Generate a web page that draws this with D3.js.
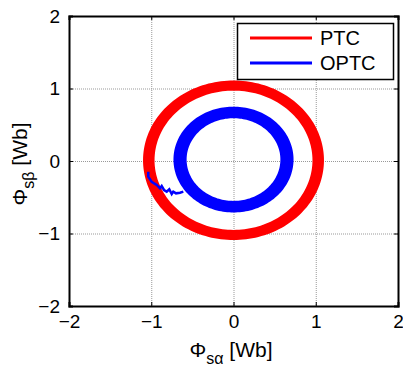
<!DOCTYPE html>
<html>
<head>
<meta charset="utf-8">
<script src="https://cdn.jsdelivr.net/npm/d3@7"></script>
<style>
  body { margin: 0; background: #fff; }
  text { font-family: Arial, "Liberation Sans", sans-serif; }
</style>
</head>
<body>
<div id="root"></div>
<script>
// axis ticks
const xTicks = [-2, -1, 0, 1, 2];
const yTicks = [-2, -1, 0, 1, 2];

// flux rings: [centerX, centerY, innerRadius, outerRadius]
const ptcRing = [0, 0.01, 0.96, 1.1];
const optcRing = [0, 0.02, 0.57, 0.73];

// OPTC start-up transient
const optcX = [-1.036, -1.036, -0.995, -0.934, -0.894, -0.873, -0.845, -0.812, -0.781, -0.751, -0.732, -0.699, -0.65, -0.61];
const optcY = [-0.148, -0.217, -0.286, -0.331, -0.377, -0.345, -0.4, -0.423, -0.39, -0.455, -0.423, -0.446, -0.437, -0.423];

const legendNames = ['PTC', 'OPTC'];
const colors = ['#ff0000', '#0000ff'];

const W = 403, H = 367;
const m = { left: 69, right: 5, top: 16, bottom: 61 };

const svg = d3.select('#root').append('svg')
  .attr('width', W).attr('height', H);

const x = d3.scaleLinear().domain([-2, 2]).range([m.left, W - m.right]);
const y = d3.scaleLinear().domain([-2, 2]).range([H - m.bottom, m.top]);

// grid
const grid = svg.append('g')
  .attr('stroke', '#999').attr('stroke-width', 1).attr('stroke-dasharray', '1,1');
grid.selectAll('.gx').data(xTicks.slice(1, -1)).join('line')
  .attr('x1', d => x(d) + 0.5).attr('x2', d => x(d) + 0.5)
  .attr('y1', y(2)).attr('y2', y(-2));
grid.selectAll('.gy').data(yTicks.slice(1, -1)).join('line')
  .attr('y1', d => y(d) + 0.5).attr('y2', d => y(d) + 0.5)
  .attr('x1', x(-2)).attr('x2', x(2));

// ring drawn as an even-odd band between two ellipses in data space
const ringPath = r => {
  const [cx, cy, ri, ro] = r;
  const ell = rad => {
    const p = d3.path();
    const n = 180;
    for (let i = 0; i <= n; i++) {
      const a = i / n * 2 * Math.PI;
      const px = x(cx + rad * Math.cos(a)), py = y(cy + rad * Math.sin(a));
      if (i === 0) p.moveTo(px, py); else p.lineTo(px, py);
    }
    p.closePath();
    return p.toString();
  };
  return ell(ro) + ell(ri);
};

svg.append('path').attr('d', ringPath(ptcRing))
  .attr('fill', colors[0]).attr('fill-rule', 'evenodd');

const line = d3.line().x(d => x(d[0])).y(d => y(d[1]));
svg.append('path')
  .attr('d', line(optcX.map((v, i) => [v, optcY[i]])))
  .attr('fill', 'none').attr('stroke', colors[1]).attr('stroke-width', 2.5);

svg.append('path').attr('d', ringPath(optcRing))
  .attr('fill', colors[1]).attr('fill-rule', 'evenodd');

// axes box with inward ticks
const axB = svg.append('g').attr('transform', `translate(0,${y(-2)})`)
  .call(d3.axisBottom(x).tickValues(xTicks).tickSize(-4).tickPadding(9).tickFormat(d3.format('d')));
const axT = svg.append('g').attr('transform', `translate(0,${y(2)})`)
  .call(d3.axisTop(x).tickValues(xTicks).tickSize(-4).tickFormat(''));
const axL = svg.append('g').attr('transform', `translate(${x(-2)},0)`)
  .call(d3.axisLeft(y).tickValues(yTicks).tickSize(-4).tickPadding(9).tickFormat(d3.format('d')));
const axR = svg.append('g').attr('transform', `translate(${x(2)},0)`)
  .call(d3.axisRight(y).tickValues(yTicks).tickSize(-4).tickFormat(''));

[axB, axT, axL, axR].forEach(a => {
  a.select('.domain').attr('stroke', '#000').attr('stroke-width', 2);
  a.selectAll('.tick line').attr('stroke', '#000');
  a.selectAll('text').attr('font-size', 19).attr('fill', '#000')
    .attr('font-family', 'Arial, "Liberation Sans", sans-serif');
});
axB.selectAll('text').attr('dy', '0.71em');

// axis labels
const xl = svg.append('text').attr('x', 231).attr('y', 357)
  .attr('text-anchor', 'middle').attr('font-size', 21);
xl.append('tspan').text('Φ');
xl.append('tspan').attr('dy', 7).attr('font-size', 16).text('sα');
xl.append('tspan').attr('dy', -7).text(' [Wb]');

const yl = svg.append('text')
  .attr('transform', `translate(27,${y(0) + 3}) rotate(-90)`)
  .attr('text-anchor', 'middle').attr('font-size', 21);
yl.append('tspan').text('Φ');
yl.append('tspan').attr('dy', 7).attr('font-size', 16).text('sβ');
yl.append('tspan').attr('dy', -7).text(' [Wb]');

// legend
const lg = svg.append('g');
lg.append('rect').attr('x', 237.5).attr('y', 23.5).attr('width', 156).attr('height', 56)
  .attr('fill', '#fff').attr('stroke', '#000').attr('stroke-width', 1.5);
legendNames.forEach((name, i) => {
  const ly = 38 + i * 25;
  lg.append('line').attr('x1', 250).attr('x2', 312).attr('y1', ly).attr('y2', ly)
    .attr('stroke', colors[i]).attr('stroke-width', 3);
  lg.append('text').attr('x', 320).attr('y', ly).attr('dy', '0.36em')
    .attr('font-size', 20).text(name);
});
</script>
</body>
</html>
